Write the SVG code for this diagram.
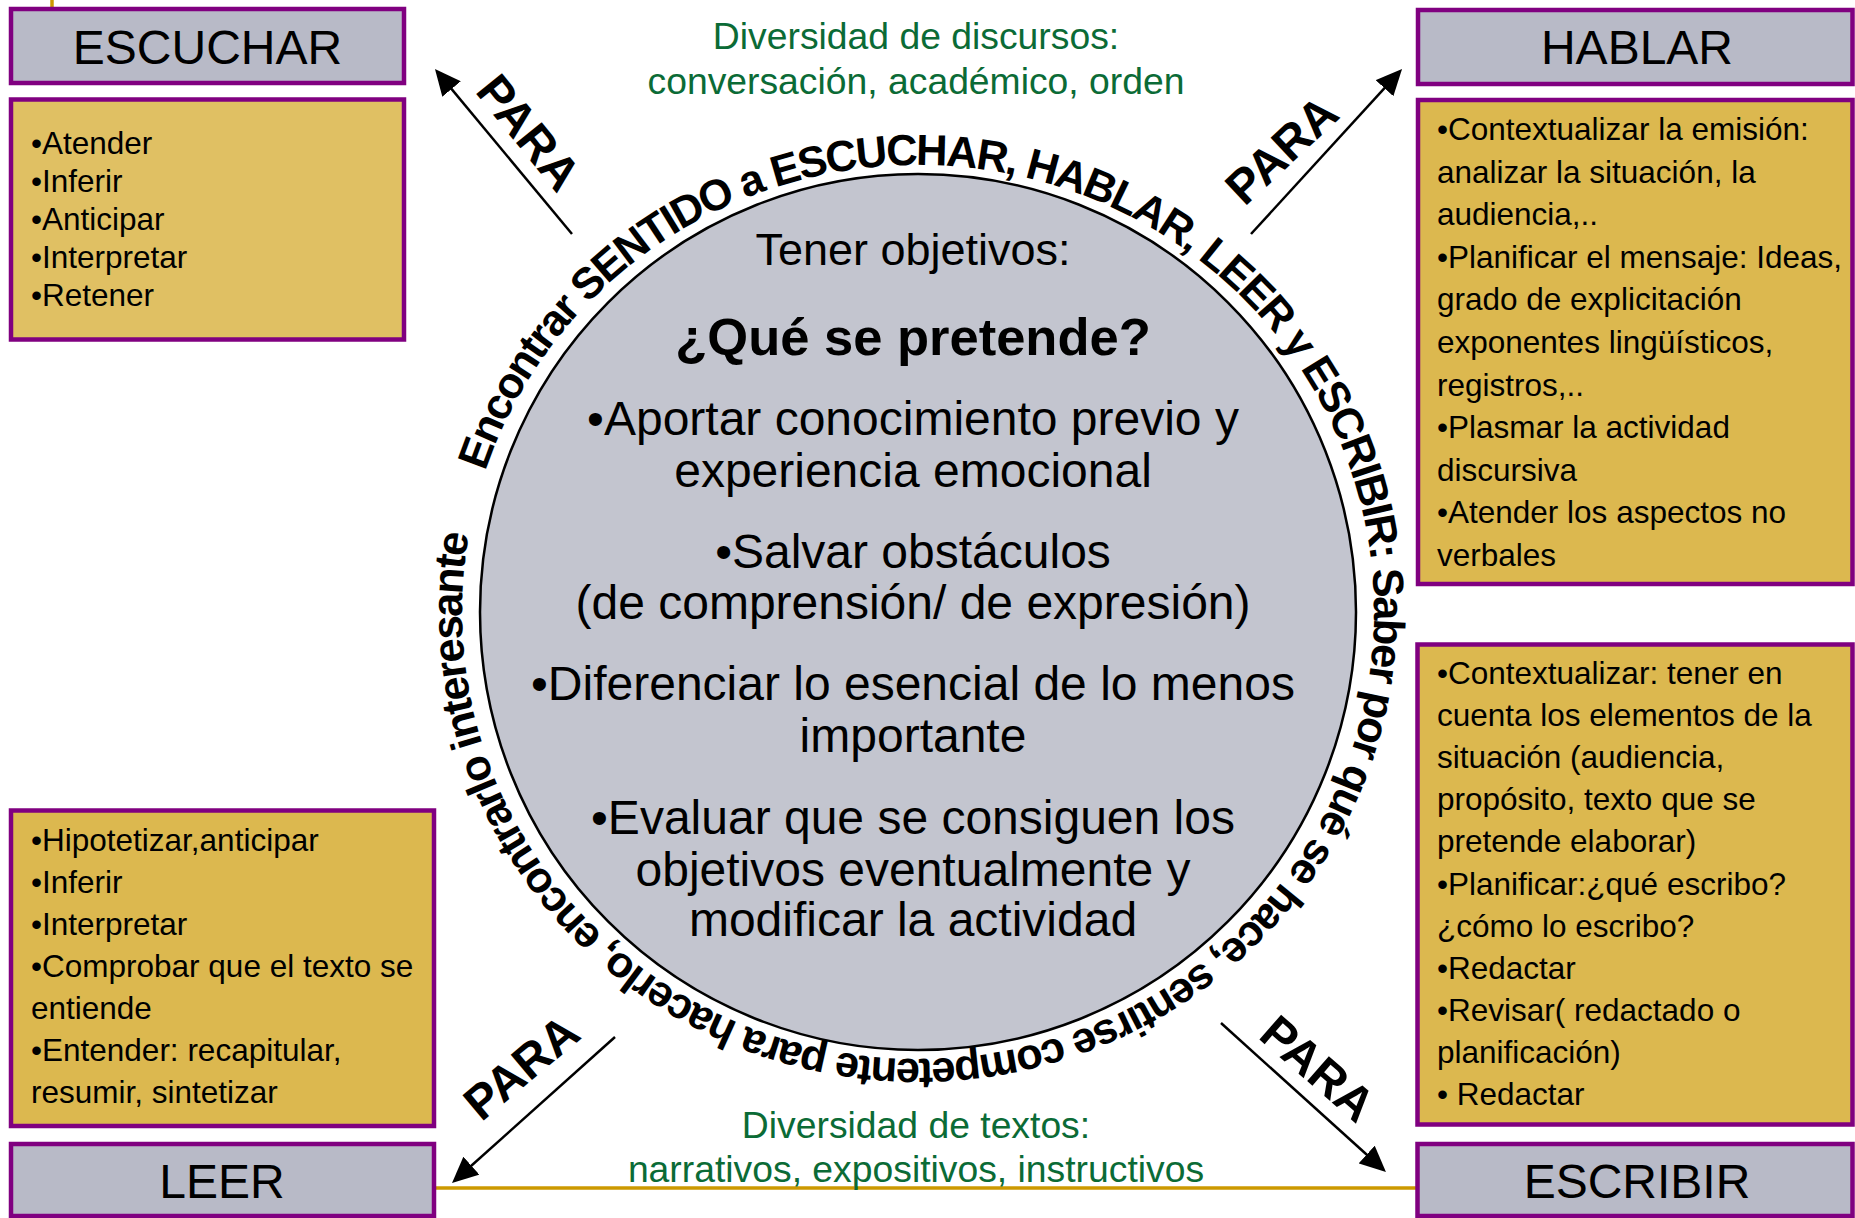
<svg xmlns="http://www.w3.org/2000/svg" width="1855" height="1218" viewBox="0 0 1855 1218">
<style>
.hdr{fill:#B8BAC7;stroke:#800080;stroke-width:4.5}
.body{fill:#DCB84F;stroke:#800080;stroke-width:4.5}
.htxt{font-family:"Liberation Sans",Arial,sans-serif;font-size:48px;fill:#000;text-anchor:middle}
.btxt{font-family:"Liberation Sans",Arial,sans-serif;font-size:31.5px;fill:#000}
.green{font-family:"Liberation Sans",Arial,sans-serif;font-size:37.3px;fill:#0B6B36;text-anchor:middle}
.ctr{font-family:"Liberation Sans",Arial,sans-serif;font-size:48px;fill:#000;text-anchor:middle}
.ring{font-family:"Liberation Sans",Arial,sans-serif;font-size:43.5px;font-weight:bold;letter-spacing:-1.9px;fill:#000}
.para{font-family:"Liberation Sans",Arial,sans-serif;font-size:48px;font-weight:bold;fill:#000;text-anchor:middle}
.arrow{stroke:#000;stroke-width:2.5;fill:none;marker-end:url(#ah)}
.gold{stroke:#CC9900;stroke-width:3.5;fill:none}
</style>
<defs>
<marker id="ah" viewBox="0 0 26 24" refX="20" refY="12" markerWidth="26" markerHeight="24" markerUnits="userSpaceOnUse" orient="auto">
<path d="M0,0 L26,12 L0,24 z" fill="#000"/>
</marker>
<path id="ringPath" d="M462,612 A456,447 0 0 1 1374,612 A456,447 0 0 1 462,612 A456,447 0 0 1 918,165"/>
</defs>
<rect width="1855" height="1218" fill="#fff"/>
<g id="frame-lines">
<line class="gold" x1="52" y1="0" x2="52" y2="10"/>
<line class="gold" x1="434" y1="1188" x2="1418" y2="1188"/>
</g>
<g id="top-label">
<text class="green" x="916" y="49">Diversidad de discursos:</text>
<text class="green" x="916" y="94">conversación, académico, orden</text>
</g>
<g id="bottom-label">
<text class="green" x="916" y="1138">Diversidad de textos:</text>
<text class="green" x="916" y="1182">narrativos, expositivos, instructivos</text>
</g>
<g id="center">
<circle cx="918" cy="612" r="438" fill="#C3C5CF" stroke="#000" stroke-width="2.5"/>
<text class="ctr" x="913" y="265" style="font-size:45px">Tener objetivos:</text>
<text class="ctr" x="913" y="355" style="font-size:52.5px;font-weight:bold">¿Qué se pretende?</text>
<text class="ctr" x="913" y="435">•Aportar conocimiento previo y</text>
<text class="ctr" x="913" y="487">experiencia emocional</text>
<text class="ctr" x="913" y="568">•Salvar obstáculos</text>
<text class="ctr" x="913" y="619">(de comprensión/ de expresión)</text>
<text class="ctr" x="913" y="700">•Diferenciar lo esencial de lo menos</text>
<text class="ctr" x="913" y="752">importante</text>
<text class="ctr" x="913" y="834">•Evaluar que se consiguen los</text>
<text class="ctr" x="913" y="886">objetivos eventualmente y</text>
<text class="ctr" x="913" y="936">modificar la actividad</text>
</g>
<g id="ring-text">
<text class="ring"><textPath href="#ringPath" startOffset="143">Encontrar SENTIDO a ESCUCHAR, HABLAR, LEER y ESCRIBIR: Saber por qué se hace, sentirse competente para hacerlo, encontrarlo interesante</textPath></text>
</g>
<g id="escuchar">
<rect class="hdr" x="11" y="9" width="393" height="74"/>
<text class="htxt" x="207.5" y="64">ESCUCHAR</text>
<rect class="body" x="11" y="99.5" width="393" height="240" style="fill:#E0C063"/>
<text class="btxt" x="31" y="154">•Atender</text>
<text class="btxt" x="31" y="192">•Inferir</text>
<text class="btxt" x="31" y="230">•Anticipar</text>
<text class="btxt" x="31" y="268">•Interpretar</text>
<text class="btxt" x="31" y="306">•Retener</text>
</g>
<g id="hablar">
<rect class="hdr" x="1418" y="10" width="434.5" height="74"/>
<text class="htxt" x="1637" y="64">HABLAR</text>
<rect class="body" x="1418" y="100" width="434.5" height="484"/>
<text class="btxt" x="1437" y="140">•Contextualizar la emisión:</text>
<text class="btxt" x="1437" y="182.6">analizar la situación, la</text>
<text class="btxt" x="1437" y="225.2">audiencia,..</text>
<text class="btxt" x="1437" y="267.8">•Planificar el mensaje: Ideas,</text>
<text class="btxt" x="1437" y="310.4">grado de explicitación</text>
<text class="btxt" x="1437" y="353">exponentes lingüísticos,</text>
<text class="btxt" x="1437" y="395.6">registros,..</text>
<text class="btxt" x="1437" y="438.2">•Plasmar la actividad</text>
<text class="btxt" x="1437" y="480.8">discursiva</text>
<text class="btxt" x="1437" y="523.4">•Atender los aspectos no</text>
<text class="btxt" x="1437" y="566">verbales</text>
</g>
<g id="escribir">
<rect class="body" x="1417.5" y="644.5" width="435" height="480"/>
<text class="btxt" x="1437" y="684">•Contextualizar: tener en</text>
<text class="btxt" x="1437" y="726.1">cuenta los elementos de la</text>
<text class="btxt" x="1437" y="768.2">situación (audiencia,</text>
<text class="btxt" x="1437" y="810.3">propósito, texto que se</text>
<text class="btxt" x="1437" y="852.4">pretende elaborar)</text>
<text class="btxt" x="1437" y="894.5">•Planificar:¿qué escribo?</text>
<text class="btxt" x="1437" y="936.6">¿cómo lo escribo?</text>
<text class="btxt" x="1437" y="978.7">•Redactar</text>
<text class="btxt" x="1437" y="1020.8">•Revisar( redactado o</text>
<text class="btxt" x="1437" y="1062.9">planificación)</text>
<text class="btxt" x="1437" y="1105">• Redactar</text>
<rect class="hdr" x="1417.5" y="1144" width="435" height="72"/>
<text class="htxt" x="1637" y="1198">ESCRIBIR</text>
</g>
<g id="leer">
<rect class="body" x="11" y="810.5" width="423" height="315.5"/>
<text class="btxt" x="31" y="851">•Hipotetizar,anticipar</text>
<text class="btxt" x="31" y="893">•Inferir</text>
<text class="btxt" x="31" y="935">•Interpretar</text>
<text class="btxt" x="31" y="977">•Comprobar que el texto se</text>
<text class="btxt" x="31" y="1019">entiende</text>
<text class="btxt" x="31" y="1061">•Entender: recapitular,</text>
<text class="btxt" x="31" y="1103">resumir, sintetizar</text>
<rect class="hdr" x="11" y="1144" width="423" height="72"/>
<text class="htxt" x="222" y="1198">LEER</text>
</g>
<g id="connectors">
<line class="arrow" x1="572" y1="234" x2="438.8" y2="73.6"/>
<text class="para" transform="translate(516,143) rotate(51)">PARA</text>
<line class="arrow" x1="1251" y1="234" x2="1398" y2="73.4"/>
<text class="para" transform="translate(1293,162) rotate(-43)">PARA</text>
<line class="arrow" x1="615" y1="1037" x2="456.5" y2="1179"/>
<text class="para" transform="translate(532,1080) rotate(-40)">PARA</text>
<line class="arrow" x1="1221" y1="1023" x2="1381.5" y2="1168"/>
<text class="para" transform="translate(1307,1081) rotate(41)">PARA</text>
</g>
</svg>
